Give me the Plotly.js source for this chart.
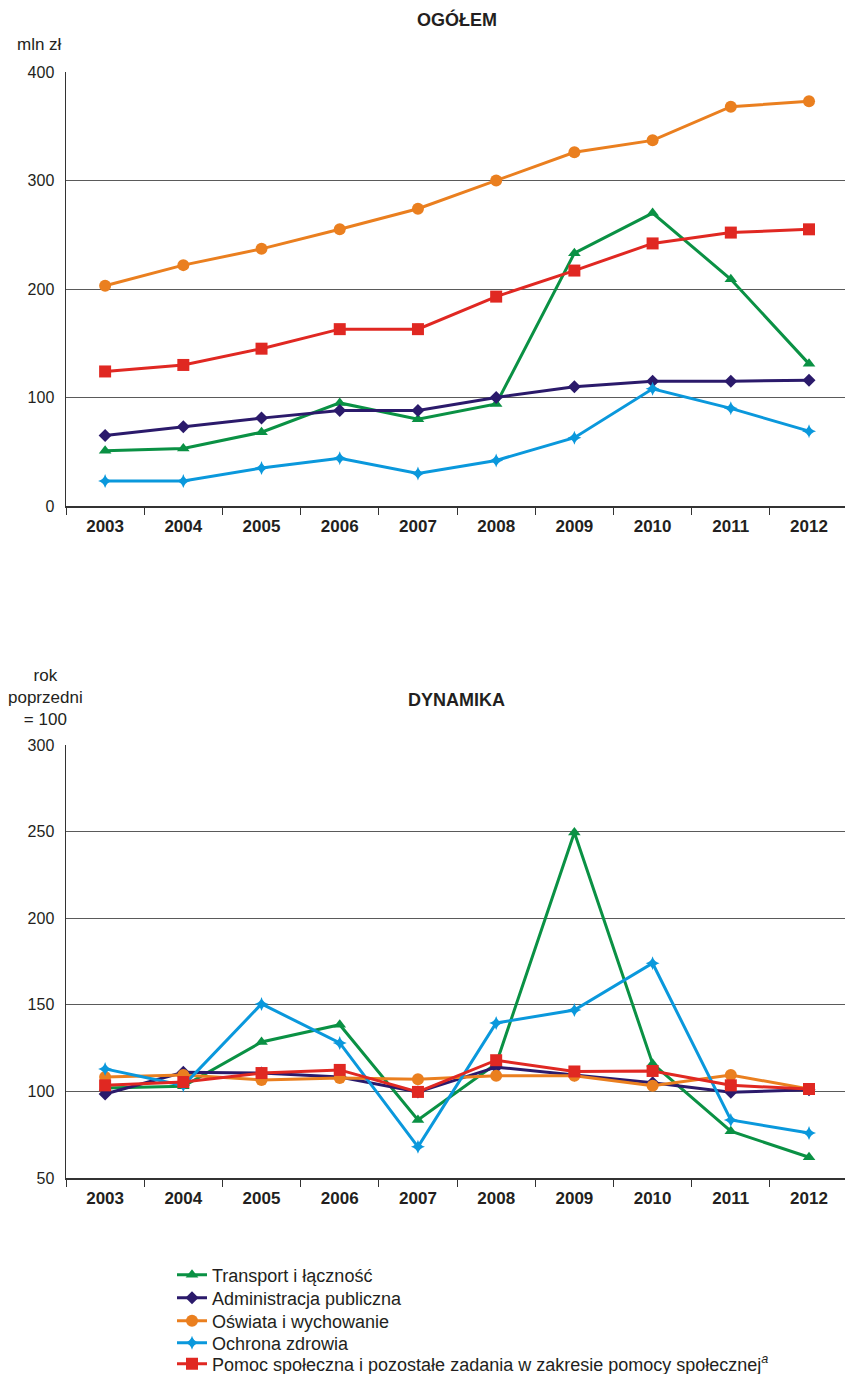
<!DOCTYPE html>
<html><head><meta charset="utf-8">
<script src="https://cdn.plot.ly/plotly-3.0.1.min.js"></script>
<style>html,body{margin:0;padding:0;background:#fff;overflow:hidden}#chart{width:845px;height:1374px}</style>
</head><body><div id="chart"></div>
<script>
const years = ['2003','2004','2005','2006','2007','2008','2009','2010','2011','2012'];
const seriesNames = ['Transport i łączność','Administracja publiczna','Oświata i wychowanie','Ochrona zdrowia','Pomoc społeczna i pozostałe zadania w zakresie pomocy społecznej<sup><i>a</i></sup>'];
// OGÓŁEM (mln zł)
const totTransport = [51, 53, 68, 95, 80, 94, 233, 270, 209, 131];
const totAdmin     = [65, 73, 81, 88, 88, 100, 110, 115, 115, 116];
const totOswiata   = [203, 222, 237, 255, 274, 300, 326, 337, 368, 373];
const totZdrowie   = [23, 23, 35, 44, 30, 42, 63, 108, 90, 69];
const totPomoc     = [124, 130, 145, 163, 163, 193, 217, 242, 252, 255];
// DYNAMIKA (rok poprzedni = 100)
const dynTransport = [102, 103, 128.5, 138.5, 83.5, 116, 249.5, 116, 77, 62];
const dynAdmin     = [98.5, 111, 110.6, 108.3, 99.7, 114, 109.5, 105, 99.5, 101];
const dynOswiata   = [108.3, 109.5, 106.6, 107.7, 107, 109, 109, 103.3, 109.5, 101.4];
const dynZdrowie   = [113, 103.4, 150.5, 128, 68, 139.5, 147, 174, 83.5, 76];
const dynPomoc     = [103.5, 105.4, 110.6, 112.4, 99.7, 118, 111.5, 111.8, 103.5, 101.4];

const colors = ['#0a9144','#2b1a6b','#ea7f1f','#0a98dc','#e02822'];
const symbols = ['triangle-up','diamond','circle','star-diamond','square'];
const msizes = [11, 10, 12, 10, 12];
const totals = [totTransport, totAdmin, totOswiata, totZdrowie, totPomoc];
const dyns = [dynTransport, dynAdmin, dynOswiata, dynZdrowie, dynPomoc];
const legendIds = ['legend','legend2','legend3','legend4','legend5'];

const FONT = 'Liberation Sans, Arial, sans-serif';
const H = 1374, PLOT_L = 66, PLOT_W = 779;
const traces = [];
totals.forEach((v,i)=>traces.push({x:years,y:v,xaxis:'x',yaxis:'y',type:'scatter',mode:'lines+markers',
  name:seriesNames[i],showlegend:false,line:{color:colors[i],width:3},
  marker:{symbol:symbols[i],size:msizes[i],color:colors[i]}}));
dyns.forEach((v,i)=>traces.push({x:years,y:v,xaxis:'x2',yaxis:'y2',type:'scatter',mode:'lines+markers',
  name:seriesNames[i],showlegend:true,legend:legendIds[i],line:{color:colors[i],width:3},
  marker:{symbol:symbols[i],size:msizes[i],color:colors[i]}}));

const xBase = {type:'category',range:[-0.5,9.46],showgrid:false,showline:true,linecolor:'#333',linewidth:1.5,
  ticks:'outside',tickson:'boundaries',ticklen:7,tickcolor:'#333',tickwidth:1,ticklabelstandoff:4,
  tickfont:{family:FONT,size:17,color:'#231f20',weight:'bold'},fixedrange:true,zeroline:false};
const yBase = {showgrid:true,gridcolor:'#5a5a5a',gridwidth:1,showline:true,linecolor:'#333',linewidth:1.5,
  ticks:'',zeroline:false,tickfont:{family:FONT,size:16,color:'#231f20'},ticklabelstandoff:7,fixedrange:true};

const legendCenters = [1275, 1298, 1321, 1343, 1364];
const layout = {
  width:845,height:H,margin:{l:PLOT_L,r:0,t:0,b:0,autoexpand:false},paper_bgcolor:'#fff',plot_bgcolor:'#fff',
  font:{family:FONT,color:'#231f20'},
  xaxis:Object.assign({},xBase,{domain:[0,1],anchor:'y'}),
  yaxis:Object.assign({},yBase,{domain:[1-506/H,1-72/H],range:[0,400],dtick:100,anchor:'x'}),
  xaxis2:Object.assign({},xBase,{domain:[0,1],anchor:'y2'}),
  yaxis2:Object.assign({},yBase,{domain:[1-1178/H,1-745/H],range:[50,300],dtick:50,anchor:'x2'}),
  showlegend:true,
  annotations:[
    {text:'<b>OGÓŁEM</b>',xref:'paper',yref:'paper',x:(457-PLOT_L)/PLOT_W,y:1-20/H,xanchor:'center',yanchor:'middle',showarrow:false,font:{family:FONT,size:18,color:'#231f20'}},
    {text:'<b>DYNAMIKA</b>',xref:'paper',yref:'paper',x:(457-PLOT_L)/PLOT_W,y:1-700/H,xanchor:'center',yanchor:'middle',showarrow:false,font:{family:FONT,size:18,color:'#231f20'}},
    {text:'mln zł',xref:'paper',yref:'paper',x:(39-PLOT_L)/PLOT_W,y:1-44/H,xanchor:'center',yanchor:'middle',showarrow:false,font:{family:FONT,size:17,color:'#231f20'}},
    {text:'rok<br>poprzedni<br>= 100',xref:'paper',yref:'paper',x:(45-PLOT_L)/PLOT_W,y:1-697/H,xanchor:'center',yanchor:'middle',showarrow:false,align:'center',font:{family:FONT,size:17,color:'#231f20'}}
  ]
};
legendIds.forEach((id,i)=>{
  layout[id] = {x:(172-PLOT_L)/PLOT_W,y:1-legendCenters[i]/H,xanchor:'left',yanchor:'middle',
    bgcolor:'rgba(0,0,0,0)',borderwidth:0,font:{family:FONT,size:18,color:'#231f20'}};
});
Plotly.newPlot('chart',traces,layout,{displayModeBar:false,staticPlot:true});
</script></body></html>
